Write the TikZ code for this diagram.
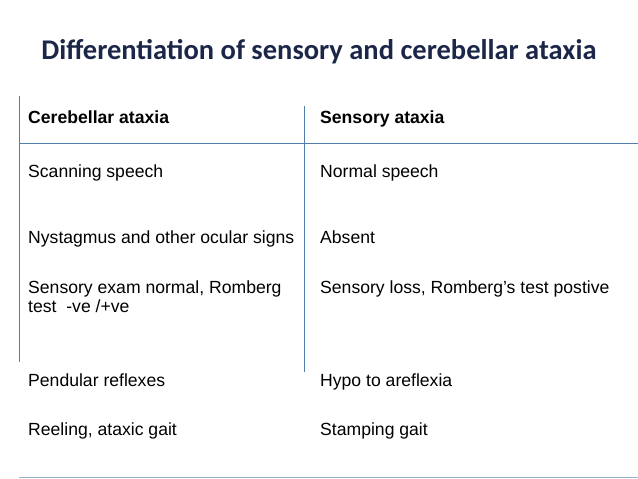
\documentclass[tikz,border=0pt]{standalone}
\usepackage{fontspec}
\setmainfont{Liberation Sans}
\newfontfamily\titlefont{Carlito}
\definecolor{rule}{HTML}{4F7FAF}
\definecolor{titlec}{HTML}{1C2648}
\begin{document}
\begin{tikzpicture}[x=1pt,y=-1pt,
  cell/.style={anchor=base west,font=\fontsize{17.6}{19}\selectfont,align=left,inner sep=0pt},
  ln/.style={draw=rule,line width=0.7pt}]
\useasboundingbox (0,0) rectangle (638,479);
\node[font=\titlefont\bfseries\fontsize{28.5}{32}\selectfont,text=titlec] (title) at (319,52) {Differentiation of sensory and cerebellar ataxia};
\coordinate (l1) at (19,96); \coordinate (l2) at (19,362);
\coordinate (m1) at (304,106); \coordinate (m2) at (304,372);
\coordinate (h1) at (19,143); \coordinate (h2) at (638,143);
\coordinate (b1) at (19,477); \coordinate (b2) at (638,477);
\draw[ln] (l1) -- (l2);
\draw[ln] (m1) -- (m2);
\draw[ln] (h1) -- (h2);
\draw[draw=rule!60,line width=1pt] (b1) -- (b2);
\node[cell,font=\bfseries\fontsize{17.6}{19}\selectfont] (a0) at (28,123) {Cerebellar ataxia};
\node[cell,font=\bfseries\fontsize{17.6}{19}\selectfont] (b0) at (320,123) {Sensory ataxia};
\node[cell] (a1) at (28,177) {Scanning speech};
\node[cell] (b1n) at (320,177) {Normal speech};
\node[cell] (a2) at (28,243) {Nystagmus and other ocular signs};
\node[cell] (b2n) at (320,243) {Absent};
\node[cell] (a3) at (28,312) {Sensory exam normal, Romberg\\test~~-ve /+ve};
\node[cell] (b3n) at (320,293) {Sensory loss, Romberg’s test postive};
\node[cell] (a4) at (28,386) {Pendular reflexes};
\node[cell] (b4n) at (320,386) {Hypo to areflexia};
\node[cell] (a5) at (28,435) {Reeling, ataxic gait};
\node[cell] (b5n) at (320,435) {Stamping gait};
\end{tikzpicture}
\end{document}
